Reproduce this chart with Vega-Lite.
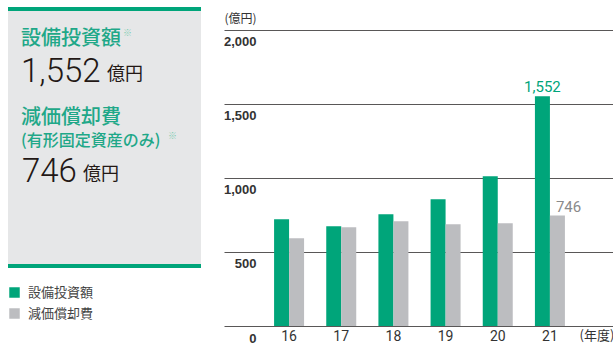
{
  "$schema": "https://vega.github.io/schema/vega-lite/v6.json",
  "padding": {"left": 6, "top": 7, "right": 0, "bottom": 0},
  "background": "white",
  "spacing": 23,
  "bounds": "flush",
  "config": {"view": {"stroke": null}, "font": "Roboto", "concat": {"spacing": 23}},
  "datasets": {
    "main": [
      {"year": "16", "series": "設備投資額", "value": 721},
      {"year": "16", "series": "減価償却費", "value": 593},
      {"year": "17", "series": "設備投資額", "value": 674},
      {"year": "17", "series": "減価償却費", "value": 667},
      {"year": "18", "series": "設備投資額", "value": 755},
      {"year": "18", "series": "減価償却費", "value": 707},
      {"year": "19", "series": "設備投資額", "value": 856},
      {"year": "19", "series": "減価償却費", "value": 687},
      {"year": "20", "series": "設備投資額", "value": 1012},
      {"year": "20", "series": "減価償却費", "value": 694},
      {"year": "21", "series": "設備投資額", "value": 1552},
      {"year": "21", "series": "減価償却費", "value": 746}
    ]
  },
  "hconcat": [
    {
      "width": 193,
      "height": 261,
      "view": {"fill": "#e6e7e8", "stroke": null},
      "data": {"name": "main"},
      "transform": [{"filter": "datum.year === '21'"}],
      "layer": [
        {
          "mark": {"type": "square", "opacity": 0, "size": 1},
          "encoding": {
            "color": {
              "field": "series", "type": "nominal",
              "scale": {"domain": ["設備投資額", "減価償却費"], "range": ["#00a57a", "#bcbdc0"]},
              "legend": {
                "orient": "none", "legendX": 0, "legendY": 279, "title": null, "direction": "vertical",
                "symbolType": "square", "symbolSize": 110, "symbolStrokeWidth": 0, "symbolOpacity": 1,
                "labelFont": "Noto Sans CJK JP", "labelFontSize": 13, "labelColor": "#444444", "labelOffset": 7,
                "rowPadding": 7, "padding": 0
              }
            },
            "x": {"datum": 1, "type": "quantitative", "scale": {"domain": [0, 193], "nice": false, "zero": false}, "axis": null},
            "y": {"datum": 1, "type": "quantitative", "scale": {"domain": [0, 261], "reverse": true, "nice": false, "zero": false}, "axis": null}
          }
        },
        {
          "transform": [{"filter": "datum.series === '設備投資額'"}],
          "mark": {"type": "rule", "color": "#00a57a", "strokeWidth": 4},
          "encoding": {"y": {"datum": 2, "type": "quantitative", "scale": {"domain": [0, 261], "reverse": true, "nice": false, "zero": false}, "axis": null}}
        },
        {
          "transform": [{"filter": "datum.series === '設備投資額'"}],
          "mark": {"type": "rule", "color": "#00a57a", "strokeWidth": 4},
          "encoding": {"y": {"datum": 259, "type": "quantitative", "scale": {"domain": [0, 261], "reverse": true, "nice": false, "zero": false}, "axis": null}}
        },
        {
          "transform": [{"filter": "datum.series === '設備投資額'"}],
          "mark": {"type": "text", "font": "Noto Sans CJK JP", "fontSize": 20, "fontWeight": 500, "color": "#1fa888", "align": "left", "baseline": "alphabetic"},
          "encoding": {
            "text": {"field": "series"},
            "x": {"datum": 13, "type": "quantitative", "scale": {"domain": [0, 193], "nice": false, "zero": false}, "axis": null},
            "y": {"datum": 38, "type": "quantitative", "scale": {"domain": [0, 261], "reverse": true, "nice": false, "zero": false}, "axis": null}
          }
        },
        {
          "transform": [{"filter": "datum.series === '設備投資額'"}],
          "mark": {"type": "text", "text": "※", "font": "Noto Sans CJK JP", "fontSize": 9, "color": "#7fcdb3", "align": "left", "baseline": "alphabetic"},
          "encoding": {
            "x": {"datum": 115, "type": "quantitative", "scale": {"domain": [0, 193], "nice": false, "zero": false}, "axis": null},
            "y": {"datum": 29, "type": "quantitative", "scale": {"domain": [0, 261], "reverse": true, "nice": false, "zero": false}, "axis": null}
          }
        },
        {
          "transform": [{"filter": "datum.series === '設備投資額'"}],
          "mark": {"type": "text", "font": "Roboto", "fontSize": 33, "fontWeight": 300, "color": "#231815", "align": "left", "baseline": "alphabetic"},
          "encoding": {
            "text": {"field": "value", "format": ","},
            "x": {"datum": 13, "type": "quantitative", "scale": {"domain": [0, 193], "nice": false, "zero": false}, "axis": null},
            "y": {"datum": 75, "type": "quantitative", "scale": {"domain": [0, 261], "reverse": true, "nice": false, "zero": false}, "axis": null}
          }
        },
        {
          "transform": [{"filter": "datum.series === '設備投資額'"}],
          "mark": {"type": "text", "text": "億円", "font": "Noto Sans CJK JP", "fontSize": 18, "color": "#231815", "align": "left", "baseline": "alphabetic"},
          "encoding": {
            "x": {"datum": 99, "type": "quantitative", "scale": {"domain": [0, 193], "nice": false, "zero": false}, "axis": null},
            "y": {"datum": 73, "type": "quantitative", "scale": {"domain": [0, 261], "reverse": true, "nice": false, "zero": false}, "axis": null}
          }
        },
        {
          "transform": [{"filter": "datum.series === '減価償却費'"}],
          "mark": {"type": "text", "font": "Noto Sans CJK JP", "fontSize": 20, "fontWeight": 500, "color": "#1fa888", "align": "left", "baseline": "alphabetic"},
          "encoding": {
            "text": {"field": "series"},
            "x": {"datum": 13, "type": "quantitative", "scale": {"domain": [0, 193], "nice": false, "zero": false}, "axis": null},
            "y": {"datum": 117, "type": "quantitative", "scale": {"domain": [0, 261], "reverse": true, "nice": false, "zero": false}, "axis": null}
          }
        },
        {
          "transform": [{"filter": "datum.series === '減価償却費'"}],
          "mark": {"type": "text", "text": "(有形固定資産のみ)", "font": "Noto Sans CJK JP", "fontSize": 16, "fontWeight": 500, "color": "#1fa888", "align": "left", "baseline": "alphabetic"},
          "encoding": {
            "x": {"datum": 13, "type": "quantitative", "scale": {"domain": [0, 193], "nice": false, "zero": false}, "axis": null},
            "y": {"datum": 139, "type": "quantitative", "scale": {"domain": [0, 261], "reverse": true, "nice": false, "zero": false}, "axis": null}
          }
        },
        {
          "transform": [{"filter": "datum.series === '減価償却費'"}],
          "mark": {"type": "text", "text": "※", "font": "Noto Sans CJK JP", "fontSize": 9, "color": "#7fcdb3", "align": "left", "baseline": "alphabetic"},
          "encoding": {
            "x": {"datum": 160, "type": "quantitative", "scale": {"domain": [0, 193], "nice": false, "zero": false}, "axis": null},
            "y": {"datum": 132, "type": "quantitative", "scale": {"domain": [0, 261], "reverse": true, "nice": false, "zero": false}, "axis": null}
          }
        },
        {
          "transform": [{"filter": "datum.series === '減価償却費'"}],
          "mark": {"type": "text", "font": "Roboto", "fontSize": 33, "fontWeight": 300, "color": "#231815", "align": "left", "baseline": "alphabetic"},
          "encoding": {
            "text": {"field": "value", "format": ","},
            "x": {"datum": 14, "type": "quantitative", "scale": {"domain": [0, 193], "nice": false, "zero": false}, "axis": null},
            "y": {"datum": 175, "type": "quantitative", "scale": {"domain": [0, 261], "reverse": true, "nice": false, "zero": false}, "axis": null}
          }
        },
        {
          "transform": [{"filter": "datum.series === '減価償却費'"}],
          "mark": {"type": "text", "text": "億円", "font": "Noto Sans CJK JP", "fontSize": 18, "color": "#231815", "align": "left", "baseline": "alphabetic"},
          "encoding": {
            "x": {"datum": 75, "type": "quantitative", "scale": {"domain": [0, 193], "nice": false, "zero": false}, "axis": null},
            "y": {"datum": 173, "type": "quantitative", "scale": {"domain": [0, 261], "reverse": true, "nice": false, "zero": false}, "axis": null}
          }
        }
      ]
    },
    {
      "width": 391,
      "height": 319,
      "data": {"name": "main"},
      "encoding": {
        "x": {
          "field": "year", "type": "nominal", "sort": null,
          "scale": {"paddingInner": 0.425, "paddingOuter": 0.96},
          "axis": {
            "title": "(年度)", "labelFont": "Roboto", "labelFontSize": 14, "labelColor": "#333333", "labelPadding": 3, "labelAngle": 0,
            "domain": false, "ticks": false, "tickSize": 0,
            "titleX": 355, "titleY": 13, "titleAlign": "left", "titleBaseline": "alphabetic", "titleAnchor": null,
            "titleFont": "Noto Sans CJK JP", "titleFontSize": 13, "titleFontWeight": "normal", "titleColor": "#333333"
          }
        },
        "xOffset": {"field": "series", "type": "nominal", "sort": ["設備投資額", "減価償却費"]},
        "y": {
          "field": "value", "type": "quantitative",
          "scale": {"domain": [0, 2155], "nice": false},
          "axis": {
            "values": [0, 500, 1000, 1500, 2000], "format": ",.0f",
            "grid": true, "gridColor": "#595757", "gridWidth": 1,
            "domain": false, "ticks": false, "tickSize": 0,
            "labelAlign": "right", "labelPadding": -32, "labelBaseline": "alphabetic", "labelOffset": 16,
            "labelFlush": false, "labelOverlap": false, "labelBound": false,
            "labelFont": "Liberation Sans", "labelFontWeight": "bold", "labelFontSize": 13, "labelColor": "#333333",
            "title": "(億円)", "titleAngle": 0, "titleAlign": "left", "titleBaseline": "alphabetic", "titleAnchor": null,
            "titleX": 0, "titleY": 15,
            "titleFont": "Noto Sans CJK JP", "titleFontSize": 12, "titleFontWeight": "normal", "titleColor": "#333333"
          }
        }
      },
      "layer": [
        {
          "mark": {"type": "bar"},
          "encoding": {
            "color": {
              "field": "series", "type": "nominal",
              "scale": {"domain": ["設備投資額", "減価償却費"], "range": ["#00a57a", "#bcbdc0"]},
              "legend": null
            }
          }
        },
        {
          "transform": [{"filter": "datum.year === '21' && datum.series === '設備投資額'"}],
          "mark": {"type": "text", "font": "Roboto", "fontSize": 15, "color": "#00a57a", "align": "center", "baseline": "alphabetic", "dy": -4},
          "encoding": {"text": {"field": "value", "format": ","}}
        },
        {
          "transform": [{"filter": "datum.year === '21' && datum.series === '減価償却費'"}],
          "mark": {"type": "text", "font": "Roboto", "fontSize": 15, "color": "#8a8a8a", "align": "left", "baseline": "alphabetic", "dx": -1.5, "dy": -3.5},
          "encoding": {"text": {"field": "value", "format": ","}}
        }
      ]
    }
  ]
}
